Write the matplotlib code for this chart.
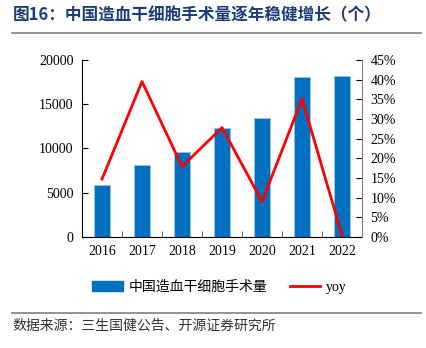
import matplotlib.pyplot as plt
from matplotlib.lines import Line2D

plt.rcParams['font.family'] = ['Liberation Serif', 'Noto Sans CJK SC', 'DejaVu Sans']

years = ['2016', '2017', '2018', '2019', '2020', '2021', '2022']
surgeries = [5850, 8170, 9640, 12350, 13410, 18110, 18190]
yoy = [14.7, 39.5, 17.9, 27.8, 9.0, 35.1, 0.4]

fig = plt.figure(figsize=(4.27, 3.48), dpi=100)
ax = fig.add_axes([0.192, 0.319, 0.656, 0.509])
x = list(range(len(years)))

ax.bar(x, surgeries, width=0.4, color='#0070C0', edgecolor='#9DC3E6', linewidth=0.6,
       label='中国造血干细胞手术量')
ax.set_xlim(-0.5, len(years) - 0.5)
ax.set_ylim(0, 20000)
ax.set_yticks(range(0, 20001, 5000))
ax.set_xticks(x)
ax.set_xticklabels(years)
ax.set_xticks([i + 0.5 for i in x[:-1]], minor=True)
ax.tick_params(axis='x', which='major', length=0, labelsize=10, pad=6)
ax.tick_params(axis='x', which='minor', direction='in', length=4, color='#404040')
ax.tick_params(axis='y', direction='in', length=4, labelsize=10, pad=6)
ax.spines['top'].set_visible(False)
ax.spines['right'].set_visible(False)

ax2 = ax.twinx()
ax2.plot(x, yoy, color='#FF0000', linewidth=2, label='yoy')
ax2.set_ylim(0, 45)
ax2.set_yticks(range(0, 46, 5))
ax2.set_yticklabels([f'{v}%' for v in range(0, 46, 5)])
ax2.tick_params(axis='y', direction='in', length=4, labelsize=10, pad=6)
ax2.spines['top'].set_visible(False)
ax2.spines['left'].set_visible(False)
ax2.spines['bottom'].set_visible(False)
ax2.spines['right'].set_color('#808080')

handles = [plt.Rectangle((0, 0), 1, 1, color='#0070C0'),
           Line2D([0], [0], color='#FF0000', linewidth=2)]
fig.legend(handles, ['中国造血干细胞手术量', 'yoy'], loc='center', bbox_to_anchor=(0.514, 0.175),
           ncol=2, frameon=False, fontsize=10, handlelength=2.2, handletextpad=0.4,
           columnspacing=1.6)

fig.text(0.03, 0.955, '图16：中国造血干细胞手术量逐年稳健增长（个）', fontsize=12,
         fontweight='bold', color='#1F3C7A', va='center',
         family=['Noto Sans CJK SC', 'DejaVu Sans'])
fig.add_artist(Line2D([0.028, 0.985], [0.905, 0.905], color='#808080', linewidth=1.2))
fig.add_artist(Line2D([0.028, 0.985], [0.1, 0.1], color='#808080', linewidth=1.2))
fig.text(0.028, 0.063, '数据来源：三生国健公告、开源证券研究所', fontsize=10, color='#333333',
         va='center', family=['Noto Sans CJK SC', 'DejaVu Sans'])

fig.savefig('out.png', dpi=100)
